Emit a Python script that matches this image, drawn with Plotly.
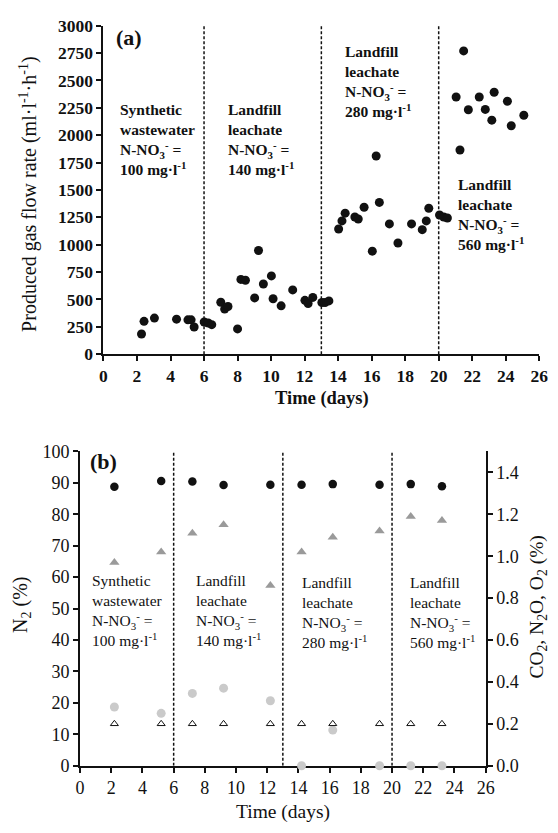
import plotly.graph_objects as go

# ---------------- data ----------------
# (a) produced gas flow rate
flow_days = [2.27, 2.42, 3.04, 4.36, 5.04, 5.23, 5.41, 6.01, 6.25, 6.46,
             7.0, 7.23, 7.43, 8.0, 8.2, 8.47, 9.02, 9.25, 9.54, 10.02,
             10.12, 10.6, 11.29, 12.02, 12.21, 12.49, 13.03, 13.22, 13.45, 14.03,
             14.23, 14.42, 15.0, 15.2, 15.55, 16.04, 16.27, 16.46, 17.06, 17.57,
             18.38, 19.02, 19.26, 19.41, 20.05, 20.3, 20.52, 21.04, 21.27, 21.49,
             21.77, 22.42, 22.78, 23.17, 23.31, 24.1, 24.33, 25.08]
flow_rate = [185, 300, 330, 320, 314, 314, 249, 294, 285, 270,
             475, 412, 436, 231, 683, 675, 514, 947, 641, 715,
             507, 442, 587, 492, 463, 519, 472, 472, 487, 1143,
             1217, 1288, 1253, 1235, 1342, 941, 1810, 1386, 1190, 1015,
             1190, 1137, 1217, 1333, 1271, 1253, 1244, 2348, 1864, 2769,
             2232, 2348, 2235, 2137, 2392, 2309, 2086, 2182]

# (b) gas composition
sample_days = [2.2, 5.2, 7.2, 9.2, 12.2, 14.2, 16.2, 19.2, 21.2, 23.2]
n2_pct = [88.8, 90.6, 90.4, 89.3, 89.4, 89.4, 89.6, 89.4, 89.6, 88.9]
co2_pct = [0.97, 1.02, 1.11, 1.15, 0.86, 1.02, 1.09, 1.12, 1.19, 1.17]
n2o_pct = [0.28, 0.25, 0.345, 0.37, 0.31, 0.0, 0.17, 0.0, 0.0, 0.0]
o2_pct = [0.2, 0.2, 0.2, 0.2, 0.2, 0.2, 0.2, 0.2, 0.2, 0.2]

phase_boundaries = [6, 13, 20]

x_ticks = list(range(0, 27, 2))
flow_ticks = list(range(0, 3001, 250))
n2_ticks = list(range(0, 101, 10))
right_ticks = [0.0, 0.2, 0.4, 0.6, 0.8, 1.0, 1.2, 1.4]

phase_labels = [
    "Synthetic<br>wastewater<br>N-NO<sub>3</sub><sup>-</sup> =<br>100 mg·l<sup>-1</sup>",
    "Landfill<br>leachate<br>N-NO<sub>3</sub><sup>-</sup> =<br>140 mg·l<sup>-1</sup>",
    "Landfill<br>leachate<br>N-NO<sub>3</sub><sup>-</sup> =<br>280 mg·l<sup>-1</sup>",
    "Landfill<br>leachate<br>N-NO<sub>3</sub><sup>-</sup> =<br>560 mg·l<sup>-1</sup>",
]

FONT = "Liberation Serif, Times New Roman, serif"
INK = "#111111"

fig = go.Figure()

fig.add_trace(go.Scatter(x=flow_days, y=flow_rate, mode="markers", xaxis="x", yaxis="y",
                         marker=dict(symbol="circle", size=9, color=INK),
                         name="Gas flow"))

fig.add_trace(go.Scatter(x=sample_days, y=n2_pct, mode="markers", xaxis="x2", yaxis="y2",
                         marker=dict(symbol="circle", size=8.5, color=INK), name="N2"))
fig.add_trace(go.Scatter(x=sample_days, y=co2_pct, mode="markers", xaxis="x2", yaxis="y3",
                         marker=dict(symbol="triangle-up", size=9, color="#9a9a9a"), name="CO2"))
fig.add_trace(go.Scatter(x=sample_days, y=n2o_pct, mode="markers", xaxis="x2", yaxis="y3",
                         cliponaxis=False,
                         marker=dict(symbol="circle", size=9, color="#cacaca"), name="N2O"))
fig.add_trace(go.Scatter(x=sample_days, y=o2_pct, mode="markers", xaxis="x2", yaxis="y3",
                         marker=dict(symbol="triangle-up-open", size=7, color=INK,
                                     line=dict(width=1, color=INK)), name="O2"))

shapes = []
for b in phase_boundaries:
    shapes.append(dict(type="line", xref="x", yref="y", x0=b, x1=b, y0=0, y1=3000,
                       line=dict(color=INK, width=1.5, dash="3px,2px")))
    shapes.append(dict(type="line", xref="x2", yref="y2", x0=b, x1=b, y0=0, y1=100,
                       line=dict(color=INK, width=1.5, dash="3px,2px")))

ann = []
# panel (a) texts
pos_a = [(0.87, 1960), (7.33, 1960), (14.31, 2490), (21.06, 1275)]
for (xx, yy), t in zip(pos_a, phase_labels):
    ann.append(dict(x=xx, y=yy, xref="x", yref="y", text=t, showarrow=False,
                    xanchor="left", yanchor="middle", align="left",
                    font=dict(family=FONT, size=15.5, color=INK, weight="bold")))
ann.append(dict(x=1.5, y=2890, xref="x", yref="y", text="(a)", showarrow=False,
                xanchor="center", yanchor="middle",
                font=dict(family=FONT, size=22, color=INK, weight="bold")))
# panel (b) texts
pos_b = [(0.63, 49.5), (7.31, 49.5), (14.13, 48.7), (21.0, 48.7)]
for (xx, yy), t in zip(pos_b, phase_labels):
    ann.append(dict(x=xx, y=yy, xref="x2", yref="y2", text=t, showarrow=False,
                    xanchor="left", yanchor="middle", align="left",
                    font=dict(family=FONT, size=15.5, color=INK)))
ann.append(dict(x=1.5, y=96.7, xref="x2", yref="y2", text="(b)", showarrow=False,
                xanchor="center", yanchor="middle",
                font=dict(family=FONT, size=22, color=INK, weight="bold")))

# axis titles
ann.append(dict(x=24 / 558, y=1 - 188 / 833, xref="paper", yref="paper",
                text="Produced gas flow rate (ml·l<sup>-1</sup>·h<sup>-1</sup>)",
                textangle=-90, showarrow=False, xanchor="center", yanchor="middle",
                font=dict(family=FONT, size=20, color=INK)))
ann.append(dict(x=325 / 558, y=1 - 398 / 833, xref="paper", yref="paper",
                text="Time (days)", showarrow=False, xanchor="center", yanchor="middle",
                font=dict(family=FONT, size=18.5, color=INK, weight="bold")))
ann.append(dict(x=17 / 558, y=1 - 610 / 833, xref="paper", yref="paper",
                text="N<sub>2</sub> (%)", textangle=-90, showarrow=False,
                xanchor="center", yanchor="middle",
                font=dict(family=FONT, size=20, color=INK)))
ann.append(dict(x=547 / 558, y=1 - 612 / 833, xref="paper", yref="paper",
                text="CO<sub>2</sub>, N<sub>2</sub>O, O<sub>2</sub> (%)", textangle=-90,
                showarrow=False, xanchor="center", yanchor="middle",
                font=dict(family=FONT, size=19.5, color=INK)))
ann.append(dict(x=285 / 558, y=1 - 822 / 833, xref="paper", yref="paper",
                text="Time (days)", showarrow=False, xanchor="center", yanchor="middle",
                font=dict(family=FONT, size=19.5, color=INK)))

axis_common = dict(showline=True, linecolor=INK, linewidth=2, ticks="outside",
                   ticklen=5, tickwidth=1.5, tickcolor=INK, showgrid=False,
                   zeroline=False, mirror=False)

fig.update_layout(
    width=558, height=833,
    margin=dict(l=0, r=0, t=0, b=0),
    paper_bgcolor="white", plot_bgcolor="white",
    showlegend=False,
    shapes=shapes, annotations=ann,
    xaxis=dict(domain=[101 / 558, 548 / 558], range=[0, 26], tickvals=x_ticks,
               anchor="y",
               tickfont=dict(family=FONT, size=17.5, color=INK, weight="bold"),
               **axis_common),
    yaxis=dict(domain=[1 - 352.7 / 833, 1 - 16 / 833], range=[0, 3000], tickvals=flow_ticks,
               anchor="x",
               tickfont=dict(family=FONT, size=17.5, color=INK, weight="bold"),
               **axis_common),
    xaxis2=dict(domain=[77 / 558, 493 / 558], range=[0, 26], tickvals=x_ticks,
                anchor="y2", layer="below traces",
                tickfont=dict(family=FONT, size=18, color=INK),
                **axis_common),
    yaxis2=dict(domain=[1 - 774.3 / 833, 1 - 452.3 / 833], range=[0, 100], tickvals=n2_ticks,
                anchor="x2", layer="below traces",
                tickfont=dict(family=FONT, size=18, color=INK),
                **axis_common),
    yaxis3=dict(range=[0, 1.5], tickvals=right_ticks, tickformat=".1f",
                overlaying="y2", side="right", anchor="x2", layer="below traces",
                tickfont=dict(family=FONT, size=18, color=INK),
                **axis_common),
)

fig.write_html("out.html")
